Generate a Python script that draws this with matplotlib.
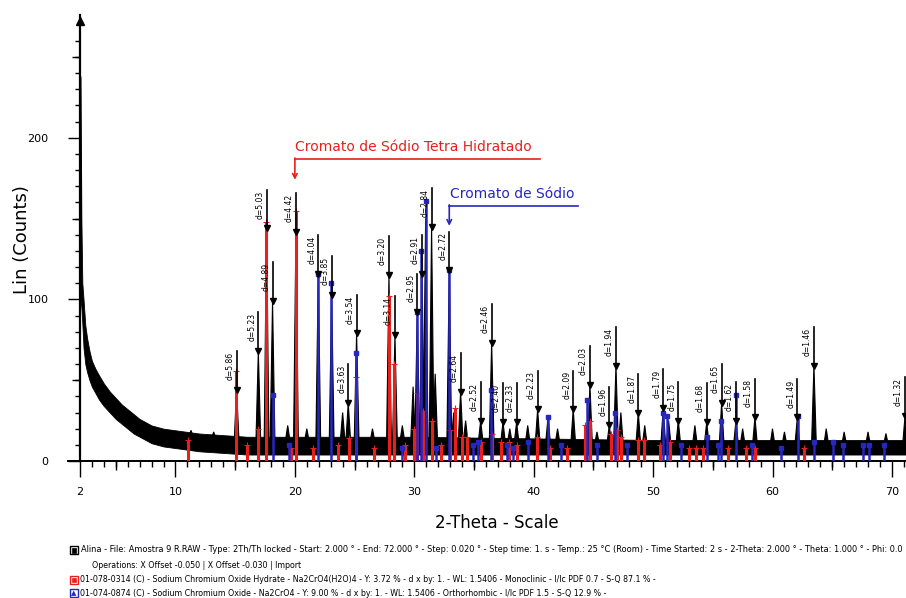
import numpy as np
import matplotlib
matplotlib.use('Agg')
import matplotlib.pyplot as plt
from matplotlib.patches import Rectangle

# measured scan: background band (lower / upper edge of the noise), counts
bg_theta = [2.05, 2.12, 2.2, 2.3, 2.45, 2.6, 2.8, 3.0, 3.3, 3.6, 4.0, 4.5, 5.0, 5.5, 6.0,
            6.5, 7.0, 7.5, 8.0, 9.0, 10.0, 11.0, 12.0, 14.0, 16.0, 20.0, 30.0, 40.0, 50.0,
            60.0, 71.2]
bg_upper = [238, 150, 110, 100, 84, 76, 68, 62, 57, 53, 48, 43, 39, 35, 32, 29, 26, 24, 22,
            20, 19, 18, 17, 16, 15, 15, 15, 14, 13, 13, 13]
bg_lower = [100, 95, 85, 70, 60, 55, 50, 46, 42, 38, 34, 30, 26, 23, 20, 17, 15, 13, 11, 9,
            8, 7, 6, 5, 4, 4, 4, 4, 4, 4, 4]

# measured peaks
meas_theta = [11.3, 13.2, 15.12, 16.94, 17.63, 18.13, 19.4, 20.09, 21.0, 21.96, 23.08, 24.0,
              24.47, 25.17, 26.5, 27.88, 28.38, 29.0, 29.9, 30.25, 30.65, 30.95, 31.45, 31.75,
              32.93, 33.3, 33.88, 34.3, 35.56, 36.48, 37.43, 38.0, 38.57, 39.5, 40.33, 41.2,
              42.0, 43.31, 44.71, 45.3, 46.33, 46.89, 47.3, 48.76, 49.3, 50.85, 51.3, 52.11,
              53.5, 54.49, 55.74, 56.94, 57.5, 58.53, 60.0, 61.0, 62.08, 63.47, 64.5, 66.0,
              68.0, 69.5, 71.1]
meas_counts = [19, 18, 44, 68, 144, 99, 22, 142, 20, 116, 103, 30, 36, 79, 20, 115, 78, 22,
               46, 92, 116, 150, 145, 54, 118, 30, 43, 25, 25, 73, 24, 20, 24, 22, 32, 27, 20,
               32, 47, 18, 22, 59, 30, 30, 22, 33, 25, 25, 22, 24, 36, 25, 20, 27, 20, 18, 27,
               59, 20, 18, 18, 17, 28]

# d-spacing labels of the identified peaks
d_theta = [15.12, 16.94, 17.63, 18.13, 20.09, 21.96, 23.08, 24.47, 25.17, 27.88, 28.38, 30.25,
           30.65, 31.45, 32.93, 33.88, 35.56, 36.48, 37.43, 38.57, 40.33, 43.31, 44.71, 46.33,
           46.89, 48.76, 50.85, 52.11, 54.49, 55.74, 56.94, 58.53, 62.08, 63.47, 71.1]
d_counts = [44, 68, 144, 99, 142, 116, 103, 36, 79, 115, 78, 92, 116, 145, 118, 43, 25, 73,
            24, 24, 32, 32, 47, 22, 59, 30, 33, 25, 24, 36, 25, 27, 27, 59, 28]
d_text = ['d=5.86', 'd=5.23', 'd=5.03', 'd=4.89', 'd=4.42', 'd=4.04', 'd=3.85', 'd=3.63',
          'd=3.54', 'd=3.20', 'd=3.14', 'd=2.95', 'd=2.91', 'd=2.84', 'd=2.72', 'd=2.64',
          'd=2.52', 'd=2.46', 'd=2.40', 'd=2.33', 'd=2.23', 'd=2.09', 'd=2.03', 'd=1.96',
          'd=1.94', 'd=1.87', 'd=1.79', 'd=1.75', 'd=1.68', 'd=1.65', 'd=1.62', 'd=1.58',
          'd=1.49', 'd=1.46', 'd=1.32']

# reference pattern 1: Na2CrO4(H2O)4 (red sticks)
ref1_theta = [11.05, 15.1, 16.0, 16.9, 17.62, 19.7, 20.08, 21.5, 23.6, 24.5, 25.1, 26.6,
              27.85, 28.3, 29.2, 29.95, 30.2, 30.7, 31.5, 32.2, 33.0, 33.4, 34.0, 34.4, 35.6,
              36.5, 37.3, 37.9, 38.6, 40.3, 41.4, 42.8, 44.3, 44.7, 46.5, 47.0, 47.3, 48.7,
              49.2, 50.6, 51.4, 53.0, 53.6, 54.2, 56.3, 57.8, 58.5, 62.6]
ref1_counts = [13, 56, 10, 20, 148, 8, 155, 8, 10, 14, 52, 8, 102, 60, 10, 20, 42, 31, 25,
               10, 19, 33, 15, 15, 12, 17, 12, 12, 10, 15, 8, 8, 22, 25, 17, 19, 15, 13, 13,
               10, 12, 8, 8, 8, 8, 8, 8, 8]

# reference pattern 2: Na2CrO4 (blue sticks)
ref2_theta = [18.13, 19.5, 21.96, 23.05, 25.15, 29.0, 30.25, 30.6, 30.95, 31.8, 32.93, 34.9,
              35.3, 36.4, 37.8, 38.3, 39.5, 41.2, 42.3, 44.5, 45.3, 46.8, 47.8, 50.8, 51.2,
              52.3, 54.5, 55.4, 55.7, 56.94, 58.3, 60.7, 62.1, 63.5, 65.1, 65.9, 67.6, 68.1,
              69.3]
ref2_counts = [41, 10, 116, 110, 67, 8, 92, 130, 161, 8, 118, 10, 12, 44, 10, 8, 12, 27, 10,
               38, 10, 30, 10, 30, 28, 10, 15, 10, 25, 41, 10, 8, 28, 12, 12, 10, 10, 10, 10]

legend_lines = [
    "Alina - File: Amostra 9 R.RAW - Type: 2Th/Th locked - Start: 2.000 \u00b0 - End: 72.000 \u00b0 - "
    "Step: 0.020 \u00b0 - Step time: 1. s - Temp.: 25 \u00b0C (Room) - Time Started: 2 s - "
    "2-Theta: 2.000 \u00b0 - Theta: 1.000 \u00b0 - Phi: 0.0",
    "Operations: X Offset -0.050 | X Offset -0.030 | Import",
    "01-078-0314 (C) - Sodium Chromium Oxide Hydrate - Na2CrO4(H2O)4 - Y: 3.72 % - d x by: 1. - "
    "WL: 1.5406 - Monoclinic - I/Ic PDF 0.7 - S-Q 87.1 % -",
    "01-074-0874 (C) - Sodium Chromium Oxide - Na2CrO4 - Y: 9.00 % - d x by: 1. - WL: 1.5406 - "
    "Orthorhombic - I/Ic PDF 1.5 - S-Q 12.9 % -",
]

RED = '#e8201c'
BLUE = '#2626c0'
W, H = 906, 598

fig = plt.figure(figsize=(W / 100, H / 100), dpi=100)
ax = fig.add_axes([68 / W, (H - 461) / H, (W - 68) / W, (461 - 15) / H])
ax.set_xlim(1.0, 71.18)
ax.set_ylim(0, 276)

# measured pattern
ax.fill_between(bg_theta, bg_lower, bg_upper, color='k', lw=0.6, zorder=2)
hw = 0.2
for p, h in zip(meas_theta, meas_counts):
    b = np.interp(p, bg_theta, bg_upper) - 3
    ax.fill([p - hw, p, p + hw], [b, h, b], color='k', lw=0.8, zorder=2)

# reference sticks
ax.vlines(ref1_theta, 0, ref1_counts, color=RED, lw=2.2, zorder=3)
ax.plot(ref1_theta, ref1_counts, ls='none', marker='+', ms=4, mew=0.8, color=RED, zorder=3)
ax.vlines(ref2_theta, 0, ref2_counts, color=BLUE, lw=1.8, zorder=3)
ax.plot(ref2_theta, ref2_counts, ls='none', marker='s', ms=3, color=BLUE, zorder=3)

# d labels
for p, h, t in zip(d_theta, d_counts, d_text):
    ax.plot([p, p], [h, h + 24], color='k', lw=1.2, zorder=4)
    ax.plot(p, h, marker='v', ms=5, color='k', zorder=4)
    ax.text(p - 0.55, h + 23.5, t, rotation=90, ha='center', va='top', fontsize=5.5,
            zorder=4)

# phase annotations
ax.text(20.05, 194.5, "Cromato de S\u00f3dio Tetra Hidratado", color=RED, fontsize=10,
        ha='left', va='center')
ax.plot([40.53, 20.0], [187, 187], color=RED, lw=1.2)
ax.annotate('', xy=(20.0, 174), xytext=(20.0, 187.5),
            arrowprops=dict(arrowstyle='->', color=RED, lw=1.2, mutation_scale=8,
                            shrinkA=0, shrinkB=0))
ax.text(33.0, 165.5, "Cromato de S\u00f3dio", color=BLUE, fontsize=10, ha='left', va='center')
ax.plot([43.7, 32.93], [158, 158], color=BLUE, lw=1.2)
ax.annotate('', xy=(32.93, 145.5), xytext=(32.93, 158.5),
            arrowprops=dict(arrowstyle='->', color=BLUE, lw=1.2, mutation_scale=8,
                            shrinkA=0, shrinkB=0))

# axes styling
for s in ['top', 'right']:
    ax.spines[s].set_visible(False)
ax.spines['left'].set_position(('data', 2))
ax.spines['left'].set_linewidth(1.6)
ax.spines['bottom'].set_linewidth(1.4)
ax.plot(2, 272, marker='^', ms=6, color='k', clip_on=False)

ax.set_xticks([2, 10, 20, 30, 40, 50, 60, 70])
ax.set_xticks(np.arange(3, 72), minor=True)
ax.tick_params(axis='x', which='major', length=11.5, width=1, pad=7, labelsize=8)
ax.tick_params(axis='x', which='minor', length=4.3, width=1)
ax.plot([5, 15, 25, 35, 45, 55, 65], [0] * 7, ls='none', marker=3, ms=6.5, mew=1,
        color='k', clip_on=False)

ax.set_yticks([0, 100, 200])
ax.set_yticks(np.arange(10, 270, 10), minor=True)
ax.tick_params(axis='y', which='major', length=8.6, width=1, pad=14, labelsize=8)
ax.tick_params(axis='y', which='minor', length=3.6, width=1)
ax.plot([2] * 3, [50, 150, 250], ls='none', marker=0, ms=5.8, mew=1, color='k',
        clip_on=False)

fig.text(22 / W, 1 - 240 / H, "Lin (Counts)", rotation=90, ha='center', va='center',
         fontsize=13)
fig.text(497 / W, 1 - 523 / H, "2-Theta - Scale", ha='center', va='center', fontsize=12)

# legend block
leg_y = [550, 565, 580, 593]
leg_x = [81, 92, 80, 80]
leg_size = [5.95, 5.7, 5.7, 5.7]
for t, y, x, fs in zip(legend_lines, leg_y, leg_x, leg_size):
    fig.text(x / W, 1 - y / H, t, ha='left', va='center', fontsize=fs)
icons = [(550, 'k'), (580, RED), (593, BLUE)]
for y, c in icons:
    fig.patches.append(Rectangle((70 / W, 1 - (y + 4) / H), 8 / W, 8 / H,
                                 transform=fig.transFigure, fc='white', ec=c, lw=1))
fig.patches.append(Rectangle((72 / W, 1 - (550 + 3) / H), 4 / W, 5 / H,
                             transform=fig.transFigure, fc='k', ec='k', lw=0.5))
fig.patches.append(Rectangle((72 / W, 1 - (580 + 2) / H), 4 / W, 4 / H,
                             transform=fig.transFigure, fc=RED, ec=RED, lw=0.5))
fig.text(74 / W, 1 - 593.5 / H, '\u25b2', color=BLUE, ha='center', va='center', fontsize=5)

fig.savefig('out.png', dpi=100)
